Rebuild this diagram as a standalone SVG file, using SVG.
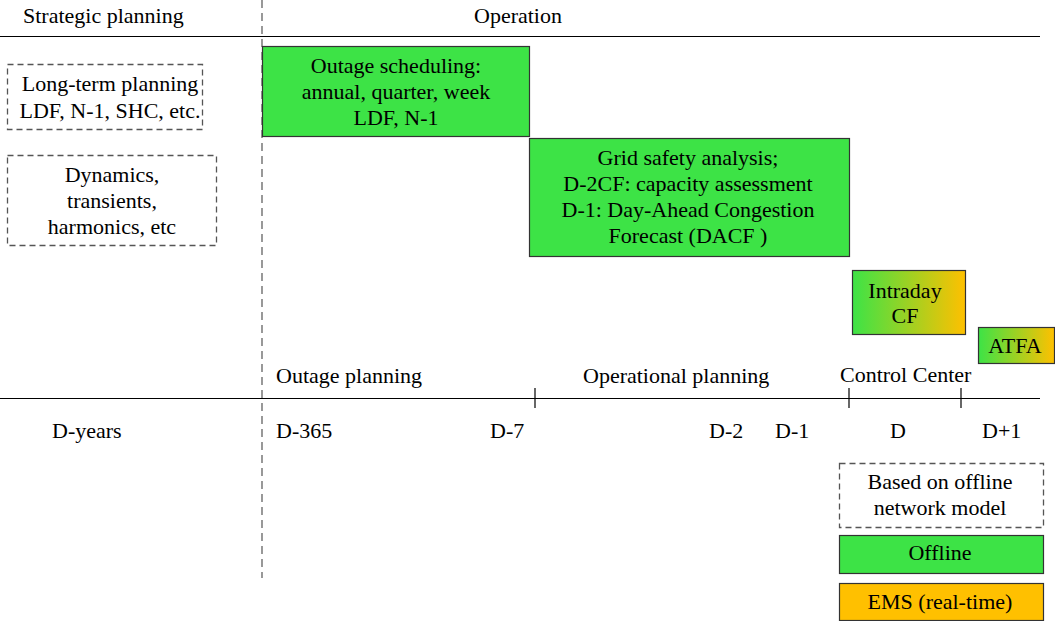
<svg xmlns="http://www.w3.org/2000/svg" width="1055" height="621" viewBox="0 0 1055 621">
<style>
text{font-family:'Liberation Serif','Times New Roman',serif;font-size:22px;fill:#000}
.c{text-anchor:middle}
.line{stroke:#000;stroke-width:1.2;fill:none}
.dash{stroke:#555;stroke-width:1.3;stroke-dasharray:6,4;fill:#fff}
.vdash{stroke:#555;stroke-width:1.2;stroke-dasharray:8,5;fill:none}
.green{fill:#3de346;stroke:#333;stroke-width:1.2}
.orange{fill:#ffc000;stroke:#333;stroke-width:1.2}
.grad{fill:url(#g);stroke:#333;stroke-width:1.2}
</style>
<defs>
<linearGradient id="g" x1="0" y1="0" x2="1" y2="0">
<stop offset="0" stop-color="#3de346"/>
<stop offset="1" stop-color="#ffc000"/>
</linearGradient>
</defs>
<g id="axes">
<line class="line" x1="0" y1="36.5" x2="1040" y2="36.5"/>
<line class="line" x1="0" y1="398.5" x2="1040" y2="398.5"/>
<line class="vdash" x1="262" y1="0" x2="262" y2="578"/>
<line class="line" x1="535" y1="388" x2="535" y2="408"/>
<line class="line" x1="849" y1="388" x2="849" y2="408"/>
<line class="line" x1="961" y1="388" x2="961" y2="408"/>
</g>
<g id="headers">
<text x="23" y="23">Strategic planning</text>
<text x="474" y="23">Operation</text>
<text x="276" y="383">Outage planning</text>
<text x="583" y="383">Operational planning</text>
<text x="840" y="382">Control Center</text>
<text x="52" y="438">D-years</text>
<text x="276" y="438">D-365</text>
<text x="490" y="438">D-7</text>
<text x="709" y="438">D-2</text>
<text x="775" y="438">D-1</text>
<text x="890" y="438">D</text>
<text x="982" y="438">D+1</text>
</g>
<g id="long-term">
<rect class="dash" x="7.5" y="64.5" width="195" height="65"/>
<text class="c" x="110" y="91">Long-term planning</text>
<text class="c" x="110" y="118">LDF, N-1, SHC, etc.</text>
</g>
<g id="dynamics">
<rect class="dash" x="7.5" y="155.5" width="209" height="90"/>
<text class="c" x="112" y="182">Dynamics,</text>
<text class="c" x="112" y="208">transients,</text>
<text class="c" x="112" y="234">harmonics, etc</text>
</g>
<g id="outage-scheduling">
<rect class="green" x="262.5" y="46.5" width="267" height="90"/>
<text class="c" x="396" y="73">Outage scheduling:</text>
<text class="c" x="396" y="99">annual, quarter, week</text>
<text class="c" x="396" y="125">LDF, N-1</text>
</g>
<g id="grid-safety">
<rect class="green" x="529.5" y="138.5" width="320" height="118"/>
<text class="c" x="688" y="165">Grid safety analysis;</text>
<text class="c" x="688" y="191">D-2CF: capacity assessment</text>
<text class="c" x="688" y="217">D-1: Day-Ahead Congestion</text>
<text class="c" x="688" y="243">Forecast (DACF )</text>
</g>
<g id="intraday">
<rect class="grad" x="852.5" y="270.5" width="113" height="64"/>
<text class="c" x="905" y="298">Intraday</text>
<text class="c" x="905" y="323">CF</text>
</g>
<g id="atfa">
<rect class="grad" x="978.5" y="327.5" width="76" height="36"/>
<text class="c" x="1015" y="353">ATFA</text>
</g>
<g id="legend-offline-model">
<rect class="dash" x="839.5" y="463.5" width="204" height="64"/>
<text class="c" x="940" y="489">Based on offline</text>
<text class="c" x="940" y="515">network model</text>
</g>
<g id="legend-offline">
<rect class="green" x="839.5" y="535.5" width="204" height="38"/>
<text class="c" x="940" y="560">Offline</text>
</g>
<g id="legend-ems">
<rect class="orange" x="839.5" y="583.5" width="204" height="37"/>
<text class="c" x="940" y="609">EMS (real-time)</text>
</g>
<g id="connectors"/>
</svg>
